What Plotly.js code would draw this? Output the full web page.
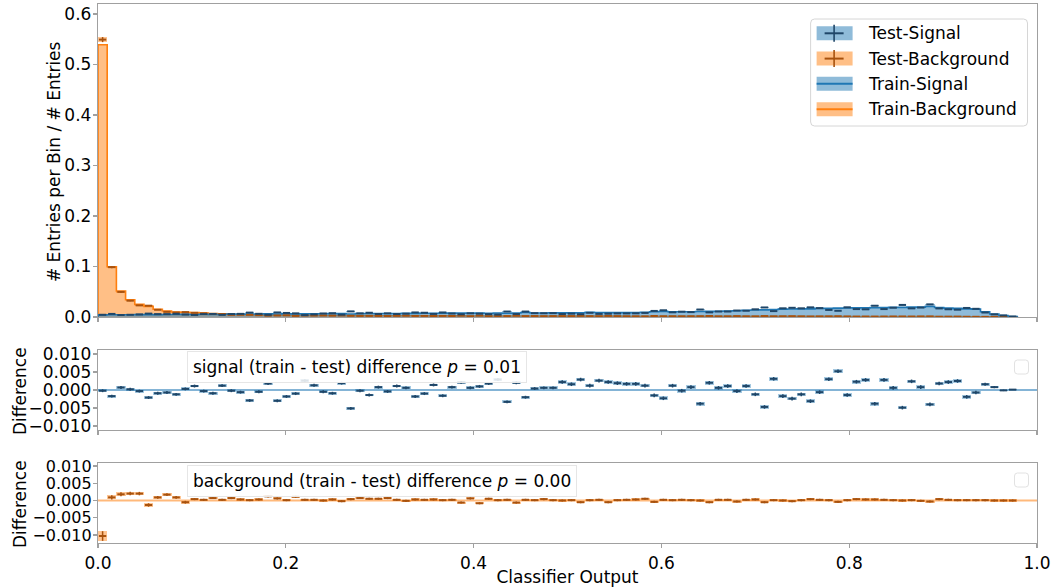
<!DOCTYPE html>
<html><head><meta charset="utf-8">
<script src="https://cdn.plot.ly/plotly-3.0.1.min.js"></script>
<style>html,body{margin:0;padding:0;background:#fff}#chart{width:1057px;height:587px}</style>
</head><body><div id="chart"></div>
<script>
// ---------------- data ----------------
const binLow = 0.0;
const binWidth = 0.00979;   // 100 bins over [0, 0.979]

const trainSignal = [
 0.0042,0.0044,0.0046,0.0046,0.0048,0.0046,0.0048,0.0050,0.0050,0.0052,
 0.0052,0.0054,0.0052,0.0054,0.0056,0.0056,0.0058,0.0058,0.0062,0.0060,
 0.0062,0.0062,0.0064,0.0064,0.0065,0.0066,0.0066,0.0060,0.0070,0.0070,
 0.0068,0.0068,0.0070,0.0072,0.0072,0.0074,0.0075,0.0074,0.0076,0.0076,
 0.0078,0.0076,0.0074,0.0078,0.0075,0.0080,0.0088,0.0080,0.0080,0.0082,
 0.0082,0.0082,0.0085,0.0095,0.0088,0.0088,0.0090,0.0088,0.0090,0.0093,
 0.0105,0.0110,0.0105,0.0103,0.0105,0.0110,0.0112,0.0115,0.0120,0.0125,
 0.0135,0.0140,0.0142,0.0148,0.0155,0.0158,0.0160,0.0160,0.0170,0.0170,
 0.0175,0.0178,0.0180,0.0180,0.0185,0.0185,0.0190,0.0190,0.0195,0.0195,
 0.0210,0.0188,0.0175,0.0170,0.0160,0.0155,0.0105,0.0060,0.0030,0.0010];

const trainBackground = [
 0.5390,0.0996,0.0515,0.0343,0.0250,0.0211,0.0152,0.0119,0.0099,0.0092,
 0.0086,0.0076,0.0066,0.0062,0.0050,0.0048,0.0044,0.0040,0.0038,0.0036,
 0.0034,0.0033,0.0032,0.0031,0.0030,0.0030,0.0029,0.0028,0.0028,0.0027,
 0.0026,0.0026,0.0025,0.0025,0.0024,0.0024,0.0023,0.0023,0.0022,0.0022,
 0.0021,0.0021,0.0021,0.0020,0.0020,0.0020,0.0019,0.0019,0.0019,0.0018,
 0.0018,0.0018,0.0018,0.0017,0.0017,0.0017,0.0017,0.0016,0.0016,0.0016,
 0.0016,0.0016,0.0015,0.0015,0.0015,0.0015,0.0015,0.0014,0.0014,0.0014,
 0.0014,0.0014,0.0013,0.0013,0.0013,0.0013,0.0012,0.0012,0.0012,0.0012,
 0.0011,0.0011,0.0011,0.0011,0.0010,0.0010,0.0010,0.0009,0.0009,0.0009,
 0.0008,0.0008,0.0007,0.0007,0.0006,0.0005,0.0004,0.0003,0.0002,0.0001];

// train - test differences
const diffSignal = [
 -0.0002,-0.0017,0.0007,0.0002,-0.0003,-0.0021,-0.0009,-0.0007,-0.0012,0.0003,
 0.0011,-0.0003,-0.0009,0.0012,-0.0002,-0.0006,-0.0029,-0.0005,0.0018,-0.0030,
 -0.0018,-0.0010,0.0026,0.0013,-0.0005,-0.0009,0.0019,-0.0051,-0.0002,-0.0014,
 0.0008,-0.0004,0.0011,0.0006,-0.0018,-0.0010,0.0014,-0.0016,0.0008,0.0021,
 0.0006,0.0010,0.0018,0.0029,-0.0033,0.0020,-0.0020,0.0004,0.0006,0.0006,
 0.0022,0.0016,0.0029,0.0012,0.0026,0.0022,0.0019,0.0017,0.0017,0.0012,
 -0.0015,-0.0023,0.0012,-0.0002,0.0008,-0.0038,0.0020,0.0006,0.0011,-0.0003,
 0.0011,-0.0012,-0.0047,0.0031,-0.0017,-0.0024,-0.0012,-0.0031,-0.0006,0.0030,
 0.0052,-0.0014,0.0023,0.0028,-0.0038,0.0028,0.0006,-0.0049,0.0024,0.0008,
 -0.0040,0.0018,0.0022,0.0025,-0.0019,-0.0007,0.0016,0.0008,-0.0001,0.0001];

const diffBackground = [
 -0.0103,0.0009,0.0018,0.0020,0.0020,-0.0013,0.0009,0.0017,0.0009,-0.0005,
 0.0004,0.0002,0.0007,0.0002,0.0007,0.0003,0.0001,0.0003,0.0012,0.0006,
 0.0001,0.0011,0.0002,0.0002,0.0000,0.0003,-0.0002,0.0004,0.0007,0.0005,
 0.0005,0.0007,0.0002,-0.0001,0.0003,0.0002,0.0003,0.0001,0.0002,-0.0006,
 0.0006,-0.0008,0.0005,0.0001,0.0002,-0.0006,0.0002,0.0001,0.0004,0.0001,
 0.0000,0.0001,-0.0005,0.0001,0.0002,-0.0005,0.0001,0.0002,0.0003,0.0005,
 -0.0004,0.0002,0.0001,0.0002,0.0001,0.0000,-0.0005,0.0002,0.0002,-0.0003,
 0.0002,0.0003,-0.0005,0.0001,0.0000,-0.0002,0.0001,0.0004,0.0002,0.0001,
 -0.0004,0.0001,0.0004,0.0003,0.0003,0.0002,0.0001,0.0000,0.0001,-0.0001,
 -0.0003,0.0004,0.0002,0.0001,0.0001,0.0001,0.0001,0.0000,0.0000,0.0000];

const errSignal = [
 0.0004,0.0004,0.0004,0.0004,0.0004,0.0004,0.0004,0.0004,0.0004,0.0004,
 0.0004,0.0004,0.0004,0.0004,0.0004,0.0004,0.0004,0.0004,0.0004,0.0004,
 0.0004,0.0004,0.0004,0.0004,0.0004,0.0004,0.0004,0.0004,0.0004,0.0004,
 0.0004,0.0004,0.0004,0.0004,0.0004,0.0004,0.0004,0.0004,0.0004,0.0004,
 0.0004,0.0004,0.0004,0.0004,0.0004,0.0004,0.0004,0.0004,0.0004,0.0004,
 0.0005,0.0005,0.0005,0.0005,0.0005,0.0005,0.0005,0.0005,0.0005,0.0005,
 0.0005,0.0005,0.0005,0.0005,0.0005,0.0005,0.0005,0.0005,0.0005,0.0005,
 0.0005,0.0005,0.0005,0.0005,0.0005,0.0005,0.0005,0.0005,0.0005,0.0005,
 0.0005,0.0005,0.0005,0.0005,0.0005,0.0005,0.0005,0.0005,0.0005,0.0005,
 0.0005,0.0005,0.0005,0.0005,0.0005,0.0005,0.0004,0.0003,0.0002,0.0001];

const errBackground = [
 0.0014,0.0006,0.0006,0.0005,0.0005,0.0005,0.0004,0.0004,0.0004,0.0004,
 0.0003,0.0003,0.0003,0.0003,0.0003,0.0003,0.0003,0.0003,0.0003,0.0003,
 0.0003,0.0003,0.0003,0.0003,0.0003,0.0003,0.0003,0.0003,0.0003,0.0003,
 0.0003,0.0003,0.0003,0.0003,0.0003,0.0003,0.0003,0.0003,0.0003,0.0003,
 0.0003,0.0003,0.0003,0.0003,0.0003,0.0003,0.0003,0.0003,0.0003,0.0003,
 0.0003,0.0003,0.0003,0.0003,0.0003,0.0003,0.0003,0.0003,0.0003,0.0003,
 0.0003,0.0003,0.0003,0.0003,0.0003,0.0003,0.0003,0.0003,0.0003,0.0003,
 0.0003,0.0003,0.0003,0.0003,0.0003,0.0003,0.0003,0.0003,0.0003,0.0003,
 0.0003,0.0003,0.0003,0.0003,0.0003,0.0003,0.0003,0.0003,0.0003,0.0003,
 0.0003,0.0003,0.0003,0.0003,0.0003,0.0003,0.0003,0.0003,0.0003,0.0003];

const errBackgroundTest = [0.0050,0.0020,0.0015,0.0010,0.0008];  // first bins, rest use errBackground

const pSignal = "0.01";
const pBackground = "0.00";
const legendLabels = ["Test-Signal","Test-Background","Train-Signal","Train-Background"];
const xTitle = "Classifier Output";
const yTitleTop = "# Entries per Bin / # Entries";
const yTitleDiff = "Difference";
const xTicks = [0, 0.2, 0.4, 0.6, 0.8, 1.0];
const yTicksTop = [0, 0.1, 0.2, 0.3, 0.4, 0.5, 0.6];
const yTicksDiff = [-0.01, -0.005, 0, 0.005, 0.01];

// ---------------- styling ----------------
const BLUE = '#1f77b4', ORANGE = '#ff7f0e';
const BLUE_FILL = 'rgba(31,119,180,0.5)', ORANGE_FILL = 'rgba(255,127,14,0.5)';
const BLUE_DARK = '#1f4668', ORANGE_DARK = '#a8520e';
const FONT = 'DejaVu Sans';
const W = 1057, H = 587;
const L = 98, R = 1037.5, T = 4, B = 543;
const px = v => (v - L) / (R - L);
const py = v => (B - v) / (B - T);

// ---------------- derived ----------------
const n = trainSignal.length;
const edges = [], centers = [];
for (let i = 0; i <= n; i++) edges.push(binLow + binWidth * i);
for (let i = 0; i < n; i++) centers.push(binLow + binWidth * (i + 0.5));
const testSignal = trainSignal.map((v, i) => v - diffSignal[i]);
const testBackground = trainBackground.map((v, i) => v - diffBackground[i]);
const errBkgTop = errBackground.map((e, i) => i < errBackgroundTest.length ? errBackgroundTest[i] : e);

function stepTrace(vals, line, fill, name) {
  const x = [edges[0]], y = [0];
  for (let i = 0; i < n; i++) { x.push(edges[i]); y.push(vals[i]); }
  x.push(edges[n]); y.push(vals[n - 1]);
  x.push(edges[n]); y.push(0);
  return {type: 'scatter', mode: 'lines', x, y, xaxis: 'x3', yaxis: 'y3', name,
    line: {shape: 'hv', color: line, width: 1.6}, fill: 'tozeroy', fillcolor: fill,
    showlegend: false, hoverinfo: 'skip'};
}
function boxTrace(vals, errs, color, xa, ya) {
  return {type: 'bar', x: centers, y: errs.map(e => 2 * e), base: vals.map((v, i) => v - errs[i]),
    width: binWidth, xaxis: xa, yaxis: ya, marker: {color, line: {width: 0}},
    showlegend: false, hoverinfo: 'skip'};
}
function markTrace(vals, errs, color, xa, ya, name) {
  return {type: 'scatter', mode: 'markers', x: centers, y: vals, xaxis: xa, yaxis: ya, name,
    marker: {size: 1, color: 'rgba(0,0,0,0)'},
    error_x: {type: 'constant', value: binWidth * 0.4, thickness: 2, width: 0, color},
    error_y: {type: 'data', array: errs, thickness: 1.5, width: 0, color},
    showlegend: false, hoverinfo: 'skip'};
}

const traces = [
  boxTrace(testBackground, errBkgTop, 'rgba(255,127,14,0.45)', 'x3', 'y3'),
  boxTrace(testSignal, errSignal, 'rgba(31,119,180,0.45)', 'x3', 'y3'),
  stepTrace(trainBackground, ORANGE, ORANGE_FILL, 'Train-Background'),
  stepTrace(trainSignal, BLUE, BLUE_FILL, 'Train-Signal'),
  markTrace(testBackground, errBkgTop, ORANGE_DARK, 'x3', 'y3', 'Test-Background'),
  markTrace(testSignal, errSignal, BLUE_DARK, 'x3', 'y3', 'Test-Signal'),
  boxTrace(diffSignal, errSignal, 'rgba(31,119,180,0.4)', 'x2', 'y2'),
  markTrace(diffSignal, errSignal, BLUE_DARK, 'x2', 'y2', 'signal diff'),
  boxTrace(diffBackground, errBackground, 'rgba(255,127,14,0.45)', 'x', 'y'),
  markTrace(diffBackground, errBackground, ORANGE_DARK, 'x', 'y', 'background diff'),
];

const axLine = {showline: true, linecolor: '#a0a0a0', linewidth: 1.2, mirror: true,
  ticks: 'outside', ticklen: 4, tickwidth: 1.2, tickcolor: '#a0a0a0',
  showgrid: false, zeroline: false, tickfont: {family: FONT, size: 17, color: '#000'}};
const yExtra = {ticklabelstandoff: -2};

const shapes = [
  {type: 'line', xref: 'x2 domain', yref: 'y2', x0: 0, x1: 1, y0: 0, y1: 0,
   line: {color: 'rgba(31,119,180,0.55)', width: 2}, layer: 'below'},
  {type: 'line', xref: 'x domain', yref: 'y', x0: 0, x1: 1, y0: 0, y1: 0,
   line: {color: 'rgba(255,127,14,0.55)', width: 2}, layer: 'below'},
];
function roundRect(x0, y0, x1, y1, r, stroke, fill) {
  const X0 = px(x0), X1 = px(x1), Y0 = py(y0), Y1 = py(y1);
  const rx = r / (R - L), ry = r / (B - T);
  const path = `M${X0 + rx},${Y0} L${X1 - rx},${Y0} Q${X1},${Y0} ${X1},${Y0 - ry} L${X1},${Y1 + ry} Q${X1},${Y1} ${X1 - rx},${Y1} L${X0 + rx},${Y1} Q${X0},${Y1} ${X0},${Y1 + ry} L${X0},${Y0 - ry} Q${X0},${Y0} ${X0 + rx},${Y0} Z`;
  return {type: 'path', xref: 'paper', yref: 'paper', path, line: {color: stroke, width: 1}, fillcolor: fill, layer: 'above'};
}
function rect(x0, y0, x1, y1, fill) {
  return {type: 'rect', xref: 'paper', yref: 'paper', x0: px(x0), x1: px(x1), y0: py(y1), y1: py(y0),
    line: {width: 0}, fillcolor: fill, layer: 'above'};
}
function seg(x0, y0, x1, y1, color, w) {
  return {type: 'line', xref: 'paper', yref: 'paper', x0: px(x0), x1: px(x1), y0: py(y0), y1: py(y1),
    line: {color, width: w}, layer: 'above'};
}
shapes.push(roundRect(811, 19, 1028, 126, 4, '#d6d6d6', 'rgba(255,255,255,0.85)'));
const handleRows = [33.3, 58.6, 83.8, 109.3];
shapes.push(rect(817, handleRows[0] - 7, 853, handleRows[0] + 7, BLUE_FILL));
shapes.push(seg(825, handleRows[0], 844, handleRows[0], BLUE_DARK, 2));
shapes.push(seg(834.5, handleRows[0] - 8.5, 834.5, handleRows[0] + 8.5, BLUE_DARK, 1.6));
shapes.push(rect(817, handleRows[1] - 7, 853, handleRows[1] + 7, ORANGE_FILL));
shapes.push(seg(825, handleRows[1], 844, handleRows[1], ORANGE_DARK, 2));
shapes.push(seg(834.5, handleRows[1] - 8.5, 834.5, handleRows[1] + 8.5, ORANGE_DARK, 1.6));
shapes.push(rect(817, handleRows[2] - 7, 853, handleRows[2] + 7, BLUE_FILL));
shapes.push(seg(817, handleRows[2], 853, handleRows[2], BLUE, 2));
shapes.push(rect(817, handleRows[3] - 7, 853, handleRows[3] + 7, ORANGE_FILL));
shapes.push(seg(817, handleRows[3], 853, handleRows[3], ORANGE, 2));
shapes.push(roundRect(1015, 360, 1029, 374, 3, '#e2e2e2', 'rgba(255,255,255,0.8)'));
shapes.push(roundRect(1015, 473, 1029, 487, 3, '#e2e2e2', 'rgba(255,255,255,0.8)'));

const txtFont = {family: FONT, size: 17, color: '#000'};
const annotations = legendLabels.map((t, i) => ({
  xref: 'paper', yref: 'paper', x: px(866), y: py(handleRows[i]), xanchor: 'left', yanchor: 'middle',
  text: t, showarrow: false, font: txtFont}));
annotations.push({xref: 'paper', yref: 'paper', x: px(187), y: py(367), xanchor: 'left', yanchor: 'middle',
  text: 'signal (train - test) difference <i>p</i> = ' + pSignal, showarrow: false,
  font: txtFont, bgcolor: 'rgba(255,255,255,0.85)', bordercolor: '#e6e6e6', borderwidth: 1, borderpad: 5});
annotations.push({xref: 'paper', yref: 'paper', x: px(187), y: py(481), xanchor: 'left', yanchor: 'middle',
  text: 'background (train - test) difference <i>p</i> = ' + pBackground, showarrow: false,
  font: txtFont, bgcolor: 'rgba(255,255,255,0.85)', bordercolor: '#e6e6e6', borderwidth: 1, borderpad: 5});
annotations.push({xref: 'paper', yref: 'paper', x: px(54), y: py(162), xanchor: 'center', yanchor: 'middle',
  textangle: -90, text: yTitleTop, showarrow: false, font: txtFont});
annotations.push({xref: 'paper', yref: 'paper', x: px(20), y: py(391), xanchor: 'center', yanchor: 'middle',
  textangle: -90, text: yTitleDiff, showarrow: false, font: txtFont});
annotations.push({xref: 'paper', yref: 'paper', x: px(20), y: py(504), xanchor: 'center', yanchor: 'middle',
  textangle: -90, text: yTitleDiff, showarrow: false, font: txtFont});

const layout = {
  width: W, height: H, paper_bgcolor: '#fff', plot_bgcolor: 'rgba(0,0,0,0)',
  margin: {l: L, r: W - R, t: T, b: H - B, pad: 0},
  font: {family: FONT, size: 17, color: '#000'},
  showlegend: false, barmode: 'overlay', bargap: 0,
  xaxis: Object.assign({}, axLine, {domain: [0, 1], anchor: 'y', range: [0, 1], tickvals: xTicks, tickformat: '.1f',
    title: {text: xTitle, font: txtFont, standoff: 4}}),
  yaxis: Object.assign({}, axLine, yExtra, {domain: [0, py(463)], anchor: 'x', range: [-0.01232, 0.01087],
    tickvals: yTicksDiff, tickformat: '.3f', tickfont: {family: FONT, size: 16, color: '#000'}}),
  xaxis2: Object.assign({}, axLine, {domain: [0, 1], anchor: 'y2', range: [0, 1], tickvals: xTicks, showticklabels: false}),
  yaxis2: Object.assign({}, axLine, yExtra, {domain: [py(430), py(350)], anchor: 'x2', range: [-0.0111, 0.0111],
    tickvals: yTicksDiff, tickformat: '.3f'}),
  xaxis3: Object.assign({}, axLine, {domain: [0, 1], anchor: 'y3', range: [0, 1], tickvals: xTicks, showticklabels: false}),
  yaxis3: Object.assign({}, axLine, yExtra, {domain: [py(317), 1], anchor: 'x3', range: [0, 0.6198],
    tickvals: yTicksTop, tickformat: '.1f'}),
  shapes, annotations,
};

Plotly.newPlot('chart', traces, layout, {staticPlot: true, displayModeBar: false});
</script>
</body></html>
